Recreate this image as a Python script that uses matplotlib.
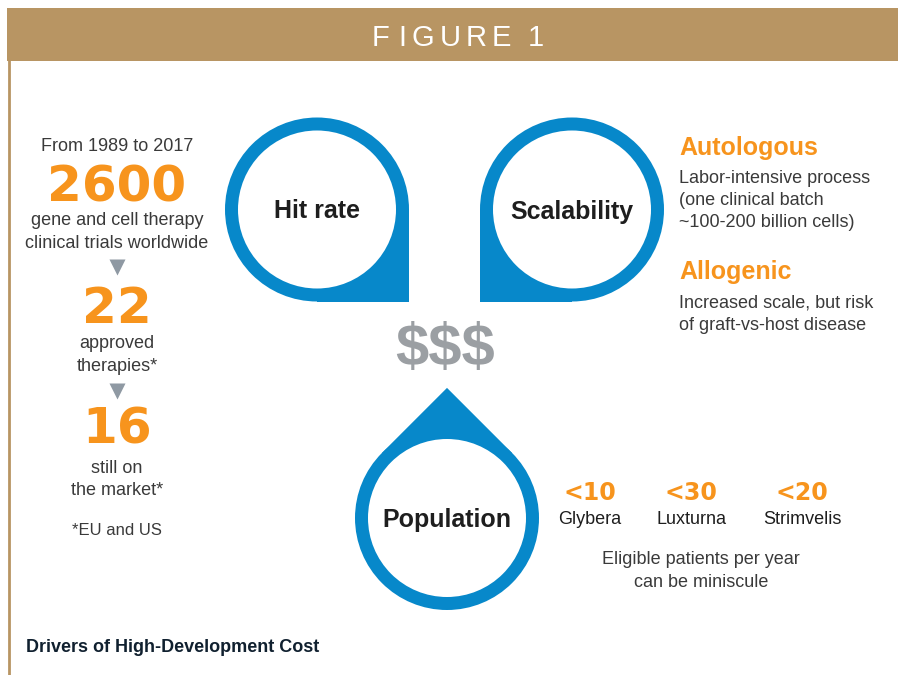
import numpy as np
import matplotlib
matplotlib.use("Agg")
import matplotlib.pyplot as plt
from matplotlib.patches import Circle, Polygon, Rectangle

# Drivers of high development cost - infographic

DRIVERS = ["Hit rate", "Scalability", "Population"]
FUNNEL_VALUES = [2600, 22, 16]
FUNNEL_LABELS = [["gene and cell therapy", "clinical trials worldwide"],
                 ["approved", "therapies*"],
                 ["still on", "the market*"]]
THERAPIES = ["Glybera", "Luxturna", "Strimvelis"]
PATIENTS = [10, 30, 20]
CELL_TYPES = ["Autologous", "Allogenic"]
CELL_NOTES = [["Labor-intensive process", "(one clinical batch", "~100-200 billion cells)"],
              ["Increased scale, but risk", "of graft-vs-host disease"]]
HEADER = "FIGURE 1"

BLUE = "#0788CA"
ORANGE = "#F7941D"
GOLD = "#B89563"
TEXT = "#3A3A3A"
DARK = "#1E1E1E"
DOLLAR = "#9B9FA3"
ARROW = "#8F99A3"
NAVY = "#10202F"

SANS = ["Liberation Sans", "DejaVu Sans"]
NUM = ["DejaVu Sans"]


def teardrop(ax, cx, cy, r, ri, tip_deg, label):
    a = np.radians(tip_deg)
    d = r * np.sqrt(2)
    tip = (cx + d * np.cos(a), cy + d * np.sin(a))
    p1 = (cx + r * np.cos(a - np.pi / 4), cy + r * np.sin(a - np.pi / 4))
    p2 = (cx + r * np.cos(a + np.pi / 4), cy + r * np.sin(a + np.pi / 4))
    ax.add_patch(Circle((cx, cy), r, facecolor=BLUE, lw=0))
    ax.add_patch(Polygon([(cx, cy), p1, tip, p2], closed=True, facecolor=BLUE, lw=0))
    ax.add_patch(Circle((cx, cy), ri, facecolor="white", lw=0))
    ax.text(cx, cy + 9, label, ha="center", va="baseline", fontsize=18,
            fontweight="bold", color=DARK, family=SANS)


fig = plt.figure(figsize=(8.98, 6.75), dpi=100)
ax = fig.add_axes([0, 0, 1, 1])
ax.set_xlim(0, 898)
ax.set_ylim(675, 0)
ax.axis("off")

# header band and frame line
ax.add_patch(Rectangle((7, 8), 891, 53, facecolor=GOLD, lw=0))
ax.plot([8.5, 8.5], [61, 675], color=GOLD, lw=2)
letter_x = [381, 402, 423, 450, 476, 501, 536]
for ch, x in zip(HEADER.replace(" ", ""), letter_x):
    ax.text(x, 46, ch, ha="center", va="baseline", fontsize=21,
            color="white", family=SANS)

# left funnel
cx_left = 117
ax.text(cx_left, 151, "From 1989 to 2017", ha="center", va="baseline",
        fontsize=13, color=TEXT, family=SANS)
num_base = [202, 323, 444]
label_base = [[225, 248], [348, 371], [473, 495]]
for i, v in enumerate(FUNNEL_VALUES):
    ax.text(cx_left, num_base[i], f"{v}", ha="center", va="baseline",
            fontsize=36, fontweight="bold", color=ORANGE, family=NUM)
    for j, line in enumerate(FUNNEL_LABELS[i]):
        ax.text(cx_left, label_base[i][j], line, ha="center", va="baseline",
                fontsize=13, color=TEXT, family=SANS)
for y in [267, 391]:
    ax.plot(cx_left, y, marker="v", ms=12, color=ARROW, mec="none")
ax.text(cx_left, 535, "*EU and US", ha="center", va="baseline",
        fontsize=12, color=TEXT, family=SANS)

# teardrops
teardrop(ax, 317, 209.5, 92, 79, 45, DRIVERS[0])
teardrop(ax, 572, 209.5, 92, 79, 135, DRIVERS[1])
teardrop(ax, 447, 518, 92, 79, -90, DRIVERS[2])

ax.text(445, 350, "$$$", ha="center", va="center", fontsize=43,
        fontweight="bold", color=DOLLAR, family=SANS)

# right column: cell types
head_base = [155, 279]
note_base = [[183, 205, 227], [307, 330]]
for i, name in enumerate(CELL_TYPES):
    ax.text(679, head_base[i], name, ha="left", va="baseline", fontsize=18,
            fontweight="bold", color=ORANGE, family=SANS)
    for j, line in enumerate(CELL_NOTES[i]):
        ax.text(679, note_base[i][j], line, ha="left", va="baseline",
                fontsize=13, color=TEXT, family=SANS)

# population numbers
xs = [590, 691, 802]
for x, name, n in zip(xs, THERAPIES, PATIENTS):
    ax.text(x, 500, f"<{n}", ha="center", va="baseline", fontsize=17,
            fontweight="bold", color=ORANGE, family=NUM)
    ax.text(x, 524, name, ha="center", va="baseline", fontsize=13,
            color=DARK, family=SANS)
ax.text(701, 564, "Eligible patients per year", ha="center", va="baseline",
        fontsize=13, color=TEXT, family=SANS)
ax.text(701, 587, "can be miniscule", ha="center", va="baseline",
        fontsize=13, color=TEXT, family=SANS)

ax.text(26, 652, "Drivers of High-Development Cost", ha="left", va="baseline",
        fontsize=13, fontweight="bold", color=NAVY, family=SANS)

fig.savefig("out.png", dpi=100)
